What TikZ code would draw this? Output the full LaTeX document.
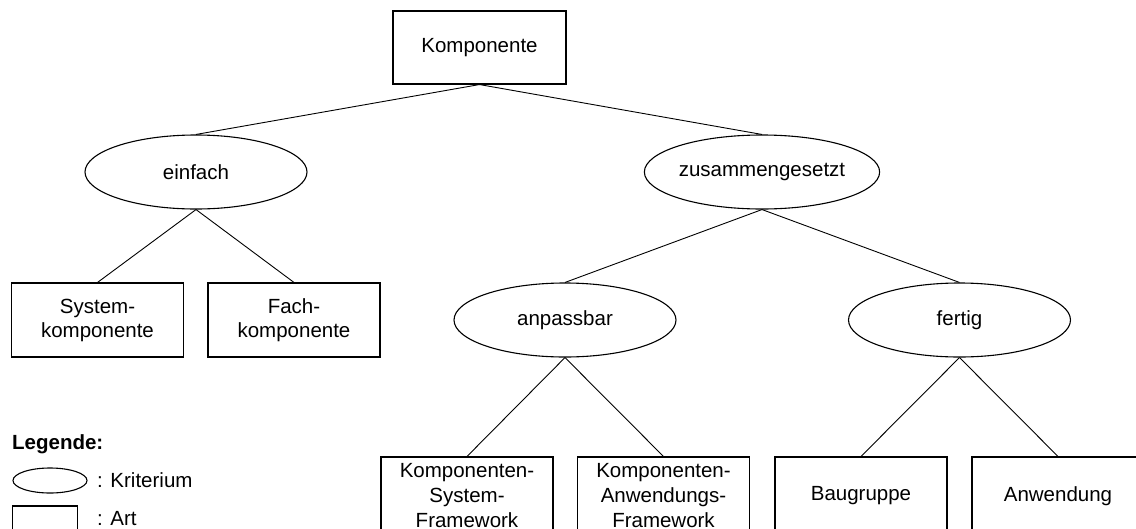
\documentclass[tikz,border=0pt]{standalone}
\usepackage{fontspec}
\setmainfont{Liberation Sans}
\usetikzlibrary{shapes.geometric}
\begin{document}
\begin{tikzpicture}[x=1pt,y=-1pt,
  every node/.style={font=\fontsize{20.5}{24}\selectfont},
  artbox/.style={draw,line width=1.1pt,rectangle,inner sep=0pt,align=center,
    minimum width=172pt,minimum height=74pt},
  lowbox/.style={artbox,minimum height=78pt,font=\fontsize{20.5}{25}\selectfont},
  crit/.style={draw,line width=1.1pt,ellipse,inner sep=0pt,
    minimum width=222pt,minimum height=74pt},
  link/.style={line width=0.9pt}]
\useasboundingbox (0,0) rectangle (1136,528);
\clip (0,0) rectangle (1136,528);

% root
\node[artbox,minimum width=173pt,minimum height=73pt] (komp) at (479.5,47.5) {Komponente};

% first level criteria
\node[crit] (einfach) at (196,172) {einfach};
\node[crit] (zus) at (762,172) {zusammengesetzt};

% simple components
\node[artbox] (sys) at (97.5,320) {System-\\komponente};
\node[artbox] (fach) at (294,320) {Fach-\\komponente};

% composite criteria
\node[crit] (anp) at (565,320) {anpassbar};
\node[crit] (fertig) at (959.5,320) {fertig};

% composite kinds
\node[lowbox] (ksf) at (467,496) {Komponenten-\\System-\\Framework};
\node[lowbox] (kaf) at (663.5,496) {Komponenten-\\Anwendungs-\\Framework};
\node[lowbox] (bau) at (861,496) {Baugruppe};
\node[lowbox] (anw) at (1058,496) {Anwendung};

% tree edges
\draw[link] (komp.south) -- (einfach.north);
\draw[link] (komp.south) -- (zus.north);
\draw[link] (einfach.south) -- (sys.north);
\draw[link] (einfach.south) -- (fach.north);
\draw[link] (zus.south) -- (anp.north);
\draw[link] (zus.south) -- (fertig.north);
\draw[link] (anp.south) -- (ksf.north);
\draw[link] (anp.south) -- (kaf.north);
\draw[link] (fertig.south) -- (bau.north);
\draw[link] (fertig.south) -- (anw.north);

% legend
\node[anchor=base west,inner sep=0pt,font=\fontsize{20.5}{24}\selectfont\bfseries] (leg) at (12,449) {Legende:};
\node[draw,line width=1.1pt,ellipse,inner sep=0pt,minimum width=74pt,minimum height=25pt] (legcrit) at (50,480.5) {};
\node[anchor=base west,inner sep=0pt] (legcrittext) at (97,487) {: Kriterium};
\node[draw,line width=1.1pt,rectangle,inner sep=0pt,minimum width=65pt,minimum height=26pt] (legart) at (45,519) {};
\node[anchor=base west,inner sep=0pt] (legarttext) at (97,525.5) {: Art};
\end{tikzpicture}
\end{document}
